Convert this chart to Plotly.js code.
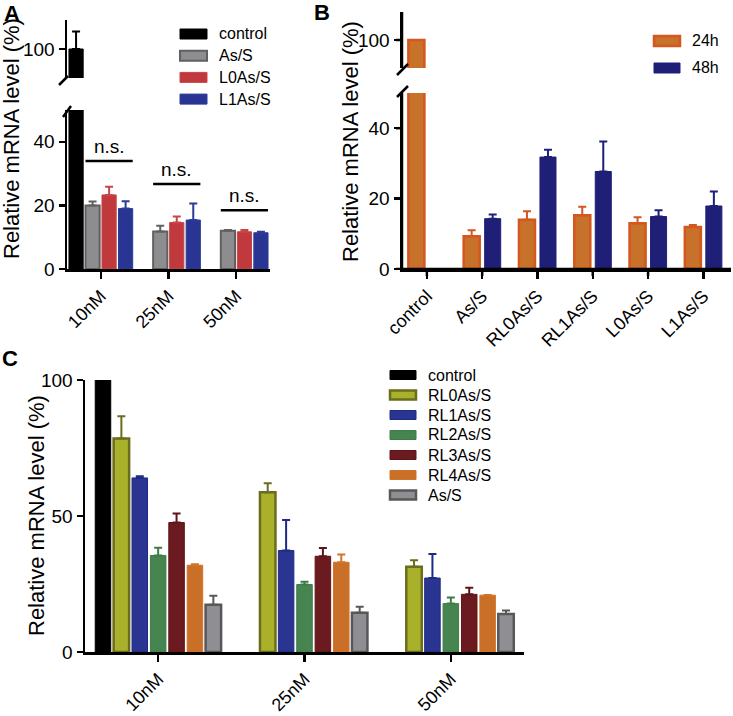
<!DOCTYPE html>
<html>
<head>
<meta charset="utf-8">
<script src="https://cdn.plot.ly/plotly-3.0.1.min.js"></script>
<style>
  html, body {margin: 0; padding: 0; background: #fff}
  #chart {width: 733px; height: 716px}
</style>
</head>
<body>
<div id="chart"></div>
<script>
// ---- panel A: knockdown at three concentrations ----
const catsA = ["10nM", "25nM", "50nM"]
const namesA = ["control", "As/S", "L0As/S", "L1As/S"]
const controlA = [100, null, null]
const controlErrA = [12, null, null]
const asA = [20, 11.8, 12]
const asErrA = [1.2, 1.8, 0.3]
const l0A = [23.3, 14.6, 11.7]
const l0ErrA = [2.6, 1.9, 0.6]
const l1A = [19, 15.4, 11.4]
const l1ErrA = [2.3, 5.2, 0.3]
const nsLabelA = ["n.s.", "n.s.", "n.s."]

// ---- panel B: 24h vs 48h ----
const catsB = ["control", "As/S", "RL0As/S", "RL1As/S", "L0As/S", "L1As/S"]
const namesB = ["24h", "48h"]
const h24 = [100, 9.3, 14.0, 15.3, 13.0, 11.9]
const h24Err = [0, 1.7, 2.4, 2.4, 1.7, 0.6]
const h48 = [null, 14.3, 31.8, 27.7, 14.9, 17.9]
const h48Err = [null, 1.2, 2.1, 8.5, 1.8, 4.1]

// ---- panel C: RL series ----
const catsC = ["10nM", "25nM", "50nM"]
const namesC = ["control", "RL0As/S", "RL1As/S", "RL2As/S", "RL3As/S", "RL4As/S", "As/S"]
const controlC = [100, null, null]
const rl0C = [78.5, 58.7, 31.3]
const rl0ErrC = [8.2, 3.3, 2.4]
const rl1C = [64.0, 37.3, 27.2]
const rl1ErrC = [0.6, 11.2, 8.8]
const rl2C = [35.5, 24.8, 17.8]
const rl2ErrC = [2.8, 1.0, 2.2]
const rl3C = [47.6, 35.2, 21.2]
const rl3ErrC = [3.3, 3.0, 2.4]
const rl4C = [31.9, 33.0, 20.9]
const rl4ErrC = [0.4, 2.8, 0.1]
const asC = [17.4, 14.4, 14.0]
const asErrC = [3.3, 2.2, 1.3]

// tick values of the broken axes
const lowTicks = [0, 20, 40]
const highTicks = [100]
const ticksC = [0, 50, 100]

// page is 733 x 716, everything below is placed in pixels then converted
const W = 733, H = 716
const px = x => x / W
const py = y => 1 - y / H
const FONT = "Arial, 'Liberation Sans', Helvetica, sans-serif"

const seriesA = [
  {name: namesA[0], y: controlA, err: controlErrA, fill: "#000000", edge: "#000000", lw: 1},
  {name: namesA[1], y: asA, err: asErrA, fill: "#8d8d90", edge: "#606063", lw: 2},
  {name: namesA[2], y: l0A, err: l0ErrA, fill: "#c0393c", edge: "#c8454a", lw: 1},
  {name: namesA[3], y: l1A, err: l1ErrA, fill: "#283593", edge: "#2c3a98", lw: 1}
]
const seriesB = [
  {name: namesB[0], y: h24, err: h24Err, fill: "#c8712b", edge: "#d4571f", lw: 2.5},
  {name: namesB[1], y: h48, err: h48Err, fill: "#1f1f78", edge: "#1f1f78", lw: 1}
]
const seriesC = [
  {name: namesC[0], y: controlC, err: null, fill: "#000000", edge: "#000000", lw: 1},
  {name: namesC[1], y: rl0C, err: rl0ErrC, fill: "#a9b12a", edge: "#6b6d1e", lw: 2.5},
  {name: namesC[2], y: rl1C, err: rl1ErrC, fill: "#293591", edge: "#1f2a85", lw: 1},
  {name: namesC[3], y: rl2C, err: rl2ErrC, fill: "#468550", edge: "#3f7b49", lw: 1},
  {name: namesC[4], y: rl3C, err: rl3ErrC, fill: "#6b1a1f", edge: "#5e1519", lw: 1},
  {name: namesC[5], y: rl4C, err: rl4ErrC, fill: "#c96f27", edge: "#d0742a", lw: 1},
  {name: namesC[6], y: asC, err: asErrC, fill: "#8f8f93", edge: "#58585b", lw: 2.5}
]

// bar slot geometry per panel (category units)
const geomA = {slot: 0.244, width: 0.21}
const geomB = {slot: 0.38, width: 0.29}
const geomC = {slot: 0.1257, width: 0.106}
const offsetOf = (geom, n, i) => -n * geom.slot / 2 + i * geom.slot + (geom.slot - geom.width) / 2

const barTraces = (cats, series, geom, xaxis, yaxes) => {
  const out = []
  series.forEach((s, i) => {
    for (const ya of yaxes) {
      out.push({
        type: "bar", x: cats, y: s.y, name: s.name, xaxis, yaxis: ya, showlegend: false,
        offset: offsetOf(geom, series.length, i), width: geom.width,
        marker: {color: s.fill, line: {color: s.edge, width: s.lw}},
        error_y: s.err ? {type: "data", symmetric: false, array: s.err, arrayminus: s.err.map(() => 0),
          color: s.edge, thickness: 2, width: 4} : {visible: false},
        hoverinfo: "skip"
      })
    }
  })
  return out
}

// axis ids: A -> x / y (lower) + y4 (upper), B -> x2 / y2 (lower) + y5 (upper), C -> x3 / y3
const data = [
  ...barTraces(catsA, seriesA, geomA, "x", ["y", "y4"]),
  ...barTraces(catsB, seriesB, geomB, "x2", ["y2", "y5"]),
  ...barTraces(catsC, seriesC, geomC, "x3", ["y3"])
]

const axisBase = {
  showline: true, linecolor: "#000", linewidth: 2.5, ticks: "outside", tickwidth: 2.5, tickcolor: "#000",
  ticklen: 6, showgrid: false, zeroline: false, automargin: false, fixedrange: true,
  tickfont: {family: FONT, size: 19, color: "#000"}
}
const xBase = {...axisBase, type: "category", tickangle: -45, ticklen: 7, tickfont: {family: FONT, size: 18, color: "#000"}}

const shapes = []
const annotations = []
const black = {color: "#000", width: 2.5}

// panel B axis lines and ticks (the built-in ones did not show up there)
shapes.push({type: "line", xref: "x2 domain", yref: "y2 domain", x0: 0, x1: 1, y0: 0, y1: 0, line: black})
for (const ya of ["y2", "y5"]) {
  shapes.push({type: "line", xref: "x2 domain", yref: ya + " domain", x0: 0, x1: 0, y0: 0, y1: 1, line: black})
}
catsB.forEach((c, i) => shapes.push({type: "line", xref: "x2", yref: "y2 domain", x0: i, x1: i,
  ysizemode: "pixel", yanchor: 0, y0: 0, y1: -7, line: black}))
lowTicks.forEach(v => shapes.push({type: "line", xref: "x2 domain", yref: "y2", y0: v, y1: v,
  xsizemode: "pixel", xanchor: 0, x0: 0, x1: -6, line: black}))
highTicks.forEach(v => shapes.push({type: "line", xref: "x2 domain", yref: "y5", y0: v, y1: v,
  xsizemode: "pixel", xanchor: 0, x0: 0, x1: -6, line: black}))

// break marks on the split axes
const slash = (x0, y0, x1, y1) => shapes.push({type: "line", xref: "paper", yref: "paper",
  x0: px(x0), y0: py(y0), x1: px(x1), y1: py(y1), line: black})
slash(59, 85, 68, 76)
slash(63, 117, 71, 106)
slash(397, 75, 408, 64)
slash(397, 97, 408, 86)

// n.s. brackets in panel A, spanning As/S..L1As/S bars
const nsY = [34, 26.7, 18.5]
catsA.forEach((c, i) => {
  const x0 = i + offsetOf(geomA, seriesA.length, 1)
  const x1 = i + offsetOf(geomA, seriesA.length, 3) + geomA.width
  shapes.push({type: "line", xref: "x", yref: "y", x0, x1, y0: nsY[i], y1: nsY[i], line: black})
  annotations.push({xref: "x", yref: "y", x: (x0 + x1) / 2, y: nsY[i], text: nsLabelA[i], showarrow: false,
    yanchor: "bottom", yshift: 2, font: {family: FONT, size: 19, color: "#000"}})
})

// legends drawn as wide swatches like the original
const legend = (series, x0, y0, dy, w, h, textX) => {
  series.forEach((s, i) => {
    const yc = y0 + i * dy
    shapes.push({type: "rect", xref: "paper", yref: "paper", x0: px(x0), x1: px(x0 + w), y0: py(yc + h / 2), y1: py(yc - h / 2),
      fillcolor: s.fill, line: {color: s.edge, width: s.lw}})
    annotations.push({xref: "paper", yref: "paper", x: px(textX), y: py(yc), text: s.name, showarrow: false,
      xanchor: "left", yanchor: "middle", font: {family: FONT, size: 16, color: "#000"}})
  })
}
legend(seriesA, 180, 34, 21.7, 27, 10, 217)
legend(seriesB, 654, 41, 27, 26, 10, 690)
legend(seriesC, 390, 375, 20, 26, 9, 426)

// panel letters and y titles
const label = (t, x, y) => annotations.push({xref: "paper", yref: "paper", x: px(x), y: py(y), text: "<b>" + t + "</b>",
  showarrow: false, xanchor: "center", yanchor: "middle", font: {family: FONT, size: 22, color: "#000"}})
label("A", 12, 14)
label("B", 322, 12)
label("C", 10, 358)
const ytitle = (x, y) => annotations.push({xref: "paper", yref: "paper", x: px(x), y: py(y), text: "Relative mRNA level (%)",
  showarrow: false, textangle: -90, xanchor: "center", yanchor: "middle", font: {family: FONT, size: 22, color: "#000"}})
ytitle(12, 139)
ytitle(350, 142)
ytitle(36, 516)

const layout = {
  width: W, height: H, margin: {l: 0, r: 0, t: 0, b: 0},
  paper_bgcolor: "#fff", plot_bgcolor: "rgba(0,0,0,0)",
  barmode: "overlay", showlegend: false,
  font: {family: FONT, color: "#000"},
  xaxis: {...xBase, domain: [px(67), px(270)], anchor: "y", range: [-0.5, 2.5]},
  yaxis: {...axisBase, domain: [py(269), py(110)], anchor: "x", range: [0, 50], tickvals: lowTicks},
  yaxis4: {...axisBase, domain: [py(78), py(20)], anchor: "x", range: [80, 120], tickvals: highTicks},
  xaxis2: {...xBase, domain: [px(402), px(731)], anchor: "y2", range: [-0.45, 5.5]},
  yaxis2: {...axisBase, domain: [py(269), py(93)], anchor: "x2", range: [0, 50], tickvals: lowTicks},
  yaxis5: {...axisBase, domain: [py(68), py(12)], anchor: "x2", range: [80, 120], tickvals: highTicks},
  xaxis3: {...xBase, domain: [px(85), px(524)], anchor: "y3", range: [-0.5, 2.5]},
  yaxis3: {...axisBase, domain: [py(652), py(380)], anchor: "x3", range: [0, 100], tickvals: ticksC},
  shapes, annotations
}

Plotly.newPlot("chart", data, layout, {displayModeBar: false, staticPlot: true})
</script>
</body>
</html>
